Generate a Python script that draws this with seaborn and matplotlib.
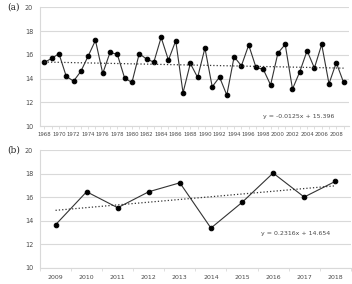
import numpy as np
import pandas as pd
import seaborn as sns
import matplotlib.pyplot as plt
from matplotlib.ticker import MultipleLocator, FixedLocator

# panel (a): annual values 1968-2009
years_a = list(range(1968, 2010))
values_a = [15.37, 15.70, 16.10, 14.19, 13.79, 14.61, 15.90, 17.22, 14.44, 16.21,
            16.04, 14.04, 13.68, 16.10, 15.65, 15.39, 17.47, 15.56, 17.19, 12.81,
            15.28, 14.10, 16.57, 13.31, 14.13, 12.61, 15.84, 15.08, 16.83, 14.94,
            14.78, 13.46, 16.15, 16.88, 13.12, 14.58, 16.35, 14.89, 16.88, 13.57,
            15.34, 13.68]
eq_a = "y = -0.0125x + 15.396"

# panel (b): annual values 2009-2018
years_b = list(range(2009, 2019))
values_b = [13.65, 16.46, 15.10, 16.46, 17.22, 13.37, 15.55, 18.05, 16.01, 17.34]
eq_b = "y = 0.2316x + 14.654"

df_a = pd.DataFrame({"year": years_a, "value": values_a})
df_b = pd.DataFrame({"pos": np.arange(len(years_b)), "value": values_b})

sns.set_style("white")
plt.rcParams["font.family"] = ["DejaVu Sans"]

fig = plt.figure(figsize=(3.52, 2.84), dpi=100)
ax1 = fig.add_axes([0.1136, 0.556, 0.877, 0.418])
ax2 = fig.add_axes([0.1136, 0.0574, 0.883, 0.414])

line_c = "#333333"
grid_c = "#d9d9d9"
tick_c = "#4a4a4a"


def style(ax):
    ax.set_ylim(10, 20)
    ax.yaxis.set_major_locator(MultipleLocator(2))
    ax.grid(axis="y", color=grid_c, lw=0.8)
    ax.set_axisbelow(True)
    for s in ["top", "right"]:
        ax.spines[s].set_visible(False)
    for s in ["left", "bottom"]:
        ax.spines[s].set_color(grid_c)
        ax.spines[s].set_linewidth(0.8)
    ax.tick_params(axis="y", length=0, labelsize=4.7, labelcolor=tick_c, pad=5)
    ax.set_xlabel("")
    ax.set_ylabel("")


# (a)
sns.lineplot(data=df_a, x="year", y="value", ax=ax1, color=line_c, lw=0.8,
             marker="o", markersize=3.3, markerfacecolor="black",
             markeredgecolor="black")
sns.regplot(data=df_a, x="year", y="value", ax=ax1, scatter=False, ci=None,
            line_kws=dict(color=line_c, lw=0.9, ls=":"))
style(ax1)
ax1.set_xlim(1967.4, 2009.7)
ax1.xaxis.set_major_locator(MultipleLocator(2))
ax1.xaxis.set_minor_locator(MultipleLocator(1))
ax1.tick_params(axis="x", which="both", direction="out", length=2,
                color=grid_c, width=0.6, labelsize=3.9, labelcolor=tick_c, pad=2.5,
                bottom=True)
ax1.text(0.955, 0.06, eq_a, transform=ax1.transAxes, ha="right", va="bottom",
         fontsize=4.5, color=tick_c)
fig.text(0.022, 0.975, "(a)", family="DejaVu Serif", fontsize=6.5, va="center")

# (b)
sns.lineplot(data=df_b, x="pos", y="value", ax=ax2, color=line_c, lw=0.8,
             marker="o", markersize=3.3, markerfacecolor="black",
             markeredgecolor="black")
sns.regplot(data=df_b, x="pos", y="value", ax=ax2, scatter=False, ci=None,
            line_kws=dict(color=line_c, lw=0.9, ls=":"))
style(ax2)
ax2.set_xlim(-0.5, len(years_b) - 0.5)
ax2.set_xticks(df_b["pos"])
ax2.set_xticklabels([str(y) for y in years_b])
ax2.xaxis.set_minor_locator(FixedLocator(np.arange(-0.5, len(years_b), 1)))
ax2.tick_params(axis="x", which="major", length=0, labelsize=4.5,
                labelcolor=tick_c, pad=5)
ax2.tick_params(axis="x", which="minor", direction="out", length=2.5,
                color=grid_c, width=0.6, bottom=True)
ax2.text(0.935, 0.27, eq_b, transform=ax2.transAxes, ha="right", va="bottom",
         fontsize=4.5, color=tick_c)
fig.text(0.022, 0.472, "(b)", family="DejaVu Serif", fontsize=6.5, va="center")

fig.savefig("out.png", dpi=100)
